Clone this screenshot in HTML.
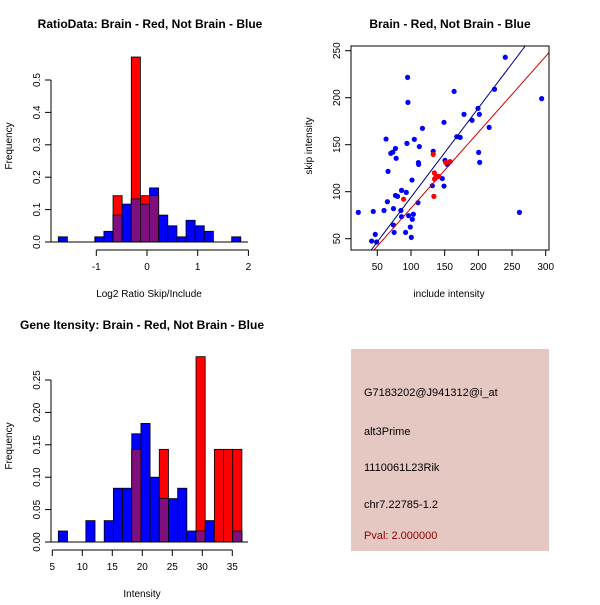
<!DOCTYPE html>
<html><head><meta charset="utf-8"><style>
body{margin:0;background:#fff}
svg text{font-family:"Liberation Sans",sans-serif;fill:#000}
</style></head><body>
<svg id="c" width="600" height="600" xmlns="http://www.w3.org/2000/svg">
<rect width="600" height="600" fill="#fff"/>
<g id="p1"></g>
<g id="p2"></g>
<g id="p3"></g>
<g>
<rect x="351" y="349" width="198" height="202" fill="#E6C8C2"/>
<text x="364" y="396" font-size="11">G7183202@J941312@i_at</text>
<text x="364" y="435" font-size="11">alt3Prime</text>
<text x="364" y="471" font-size="11">1110061L23Rik</text>
<text x="364" y="508" font-size="11">chr7.22785-1.2</text>
<text x="364" y="539" font-size="11" style="fill:#8B0000">Pval: 2.000000</text>
</g>
</svg>
<script>
// ---- Plot 1 data ----
const h1Start = -1.75, h1Width = 0.18;
const h1Blue = [0.016,0,0,0,0.016,0.033,0.083,0.117,0.133,0.117,0.167,0.083,0.05,0.016,0.067,0.05,0.033,0,0,0.016];
const h1Red  = [0,0,0,0,0,0,0.143,0,0.571,0.143,0.143,0,0,0,0,0,0,0,0,0];
const h1YTicks = [0,0.1,0.2,0.3,0.4,0.5];
const h1YLabels = ["0.0","0.1","0.2","0.3","0.4","0.5"];
const h1XTicks = [-1,0,1,2];
// ---- Plot 2 data ----
const blueX = [21.8,44,41.6,47,49,60,63,65,66,70,73,74,75,74,77,77,78,80,85,86,86,92,93,94,95,95.5,96.5,99,100.5,101.5,102,103.5,105,110.4,111,111.4,112.4,117,131.7,133,146.5,149,149,150.5,154,164,168,173,178.7,190.6,199.5,200.5,201.5,202,216,224,240,261,294];
const blueY = [78,79,47.5,54.6,46.5,80,156,89.4,121.6,140.8,142,64.5,56.7,82,146,96,135.5,95,80,101.4,73.4,56.7,99.3,151.4,221.6,195,74.5,62.4,51.4,112.4,70.6,76,155.7,88.3,131,129,148,167.4,106.4,143,114,106,173.8,133.3,129,206.7,158.5,157.8,182.3,176,188.7,141.8,182.3,131.2,168.4,209,243,78,199];
const redX = [89,133,134.7,134,135,136.6,139,141,151.5,158];
const redY = [92,139.7,120,95,113.5,115,116,116.3,131,132];
const blueFit = [-0.85,0.949];
const redFit = [1.6,0.808];
const sXTicks = [50,100,150,200,250,300];
const sYTicks = [50,100,150,200,250];
// ---- Plot 3 data ----
const h3Start = 6.0, h3Width = 1.53;
const h3Blue = [0.017,0,0,0.033,0,0.033,0.083,0.083,0.167,0.183,0.1,0.067,0.067,0.083,0.017,0.017,0.033,0,0,0.017];
const h3Red  = [0,0,0,0,0,0,0,0,0.143,0,0,0.143,0,0,0,0.286,0,0.143,0.143,0.143];
const h3YTicks = [0,0.05,0.1,0.15,0.2,0.25];
const h3YLabels = ["0.00","0.05","0.10","0.15","0.20","0.25"];
const h3XTicks = [5,10,15,20,25,30,35];

const NS="http://www.w3.org/2000/svg";
function mk(parent,tag,attrs){const e=document.createElementNS(NS,tag);for(const k in attrs)e.setAttribute(k,attrs[k]);parent.appendChild(e);return e;}
function txt(parent,x,y,s,size,extra){const t=mk(parent,'text',Object.assign({x:x,y:y,'font-size':size,'text-anchor':'middle'},extra||{}));t.textContent=s;return t;}

function hist(g,o){
  const sx=v=>o.x0px+(v-o.xv0)*o.pxX, sy=v=>o.y0px-v*o.pxY;
  o.blue.forEach((b,i)=>{
    const r=o.red[i], lo=o.start+i*o.width, hi=lo+o.width;
    const x=sx(lo), w=sx(hi)-sx(lo);
    [[b,'#0000FF'],[r,'#FF0000'],[Math.min(b,r),'#7F0F7F']].forEach(([v,c])=>{
      if(v>0){const e=mk(g,'rect',{x:x,y:sy(v),width:w,height:sy(0)-sy(v),fill:c,stroke:'#000','stroke-width':0.8});
      
      }
    });
  });
  mk(g,'line',{x1:o.axLeft,x2:o.axRight,y1:sy(0),y2:sy(0),stroke:'#000'});
  const ya=o.yticks;
  mk(g,'line',{x1:o.yAxisX,x2:o.yAxisX,y1:sy(ya[0]),y2:sy(ya[ya.length-1]),stroke:'#000'});
  ya.forEach((v,i)=>{mk(g,'line',{x1:o.yAxisX-6,x2:o.yAxisX,y1:sy(v),y2:sy(v),stroke:'#000'});
    const t=txt(g,o.yAxisX-11,sy(v),o.ylabels[i],10,{transform:`rotate(-90 ${o.yAxisX-11} ${sy(v)})`});
    
    });
  const xa=o.xticks;
  mk(g,'line',{x1:sx(xa[0]),x2:sx(xa[xa.length-1]),y1:o.xAxisY,y2:o.xAxisY,stroke:'#000'});
  xa.forEach(v=>{mk(g,'line',{x1:sx(v),x2:sx(v),y1:o.xAxisY,y2:o.xAxisY+6,stroke:'#000'});
    const t=txt(g,sx(v),o.xAxisY+20,String(v),10);
    
    });
}

const g1=document.getElementById('p1');
hist(g1,{start:h1Start,width:h1Width,blue:h1Blue,red:h1Red,x0px:147,xv0:0,pxX:50.7,y0px:242,pxY:324,
  axLeft:51,axRight:248,yAxisX:51,yticks:h1YTicks,ylabels:h1YLabels,xticks:h1XTicks,xAxisY:250});
let t;
t=txt(g1,150,28,'RatioData: Brain - Red, Not Brain - Blue',12,{'font-weight':'bold'});

t=txt(g1,149,297,'Log2 Ratio Skip/Include',10);

t=txt(g1,12,146,'Frequency',10,{transform:'rotate(-90 12 146)'});


const g3=document.getElementById('p3');
hist(g3,{start:h3Start,width:h3Width,blue:h3Blue,red:h3Red,x0px:52.3,xv0:5,pxX:6,y0px:542,pxY:648,
  axLeft:51,axRight:248,yAxisX:51,yticks:h3YTicks,ylabels:h3YLabels,xticks:h3XTicks,xAxisY:550});
t=txt(g3,142,329,'Gene Itensity: Brain - Red, Not Brain - Blue',12,{'font-weight':'bold'});

t=txt(g3,142,597,'Intensity',10);

t=txt(g3,12,446,'Frequency',10,{transform:'rotate(-90 12 446)'});


const g2=document.getElementById('p2');
const L=351,R=549,T=46,B=250;
const px=v=>377.3+(v-50)*(168.4/250), py=v=>238.7-(v-50)*(188/200);
const defs=mk(g2,'clipPath',{id:'clip2'});mk(defs,'rect',{x:L,y:T,width:R-L,height:B-T});
blueX.forEach((x,i)=>{const c=mk(g2,'circle',{cx:px(x),cy:py(blueY[i]),r:2.6,fill:'#0000FF'});
  });
redX.forEach((x,i)=>{const c=mk(g2,'circle',{cx:px(x),cy:py(redY[i]),r:2.6,fill:'#FF0000'});
  });
[[blueFit,'#00008B','blue-fit-line'],[redFit,'#CD0000','red-fit-line']].forEach(([f,c,n])=>{
  const l=mk(g2,'line',{x1:px(0),y1:py(f[0]),x2:px(400),y2:py(f[0]+f[1]*400),stroke:c,'stroke-width':1,'clip-path':'url(#clip2)'});
  });
mk(g2,'rect',{x:L,y:T,width:R-L,height:B-T,fill:'none',stroke:'#000'});
mk(g2,'line',{x1:px(sXTicks[0]),x2:px(sXTicks[sXTicks.length-1]),y1:B,y2:B,stroke:'#000'});
sXTicks.forEach(v=>{mk(g2,'line',{x1:px(v),x2:px(v),y1:B,y2:B+6,stroke:'#000'});
  const t=txt(g2,px(v),B+20,String(v),10);
  });
sYTicks.forEach(v=>{mk(g2,'line',{x1:L-6,x2:L,y1:py(v),y2:py(v),stroke:'#000'});
  const t=txt(g2,L-11,py(v),String(v),10,{transform:`rotate(-90 ${L-11} ${py(v)})`});
  });
t=txt(g2,450,28,'Brain - Red, Not Brain - Blue',12,{'font-weight':'bold'});

t=txt(g2,449,297,'include intensity',10);

t=txt(g2,312,146,'skip intensity',10,{transform:'rotate(-90 312 146)'});

</script>
</body></html>
